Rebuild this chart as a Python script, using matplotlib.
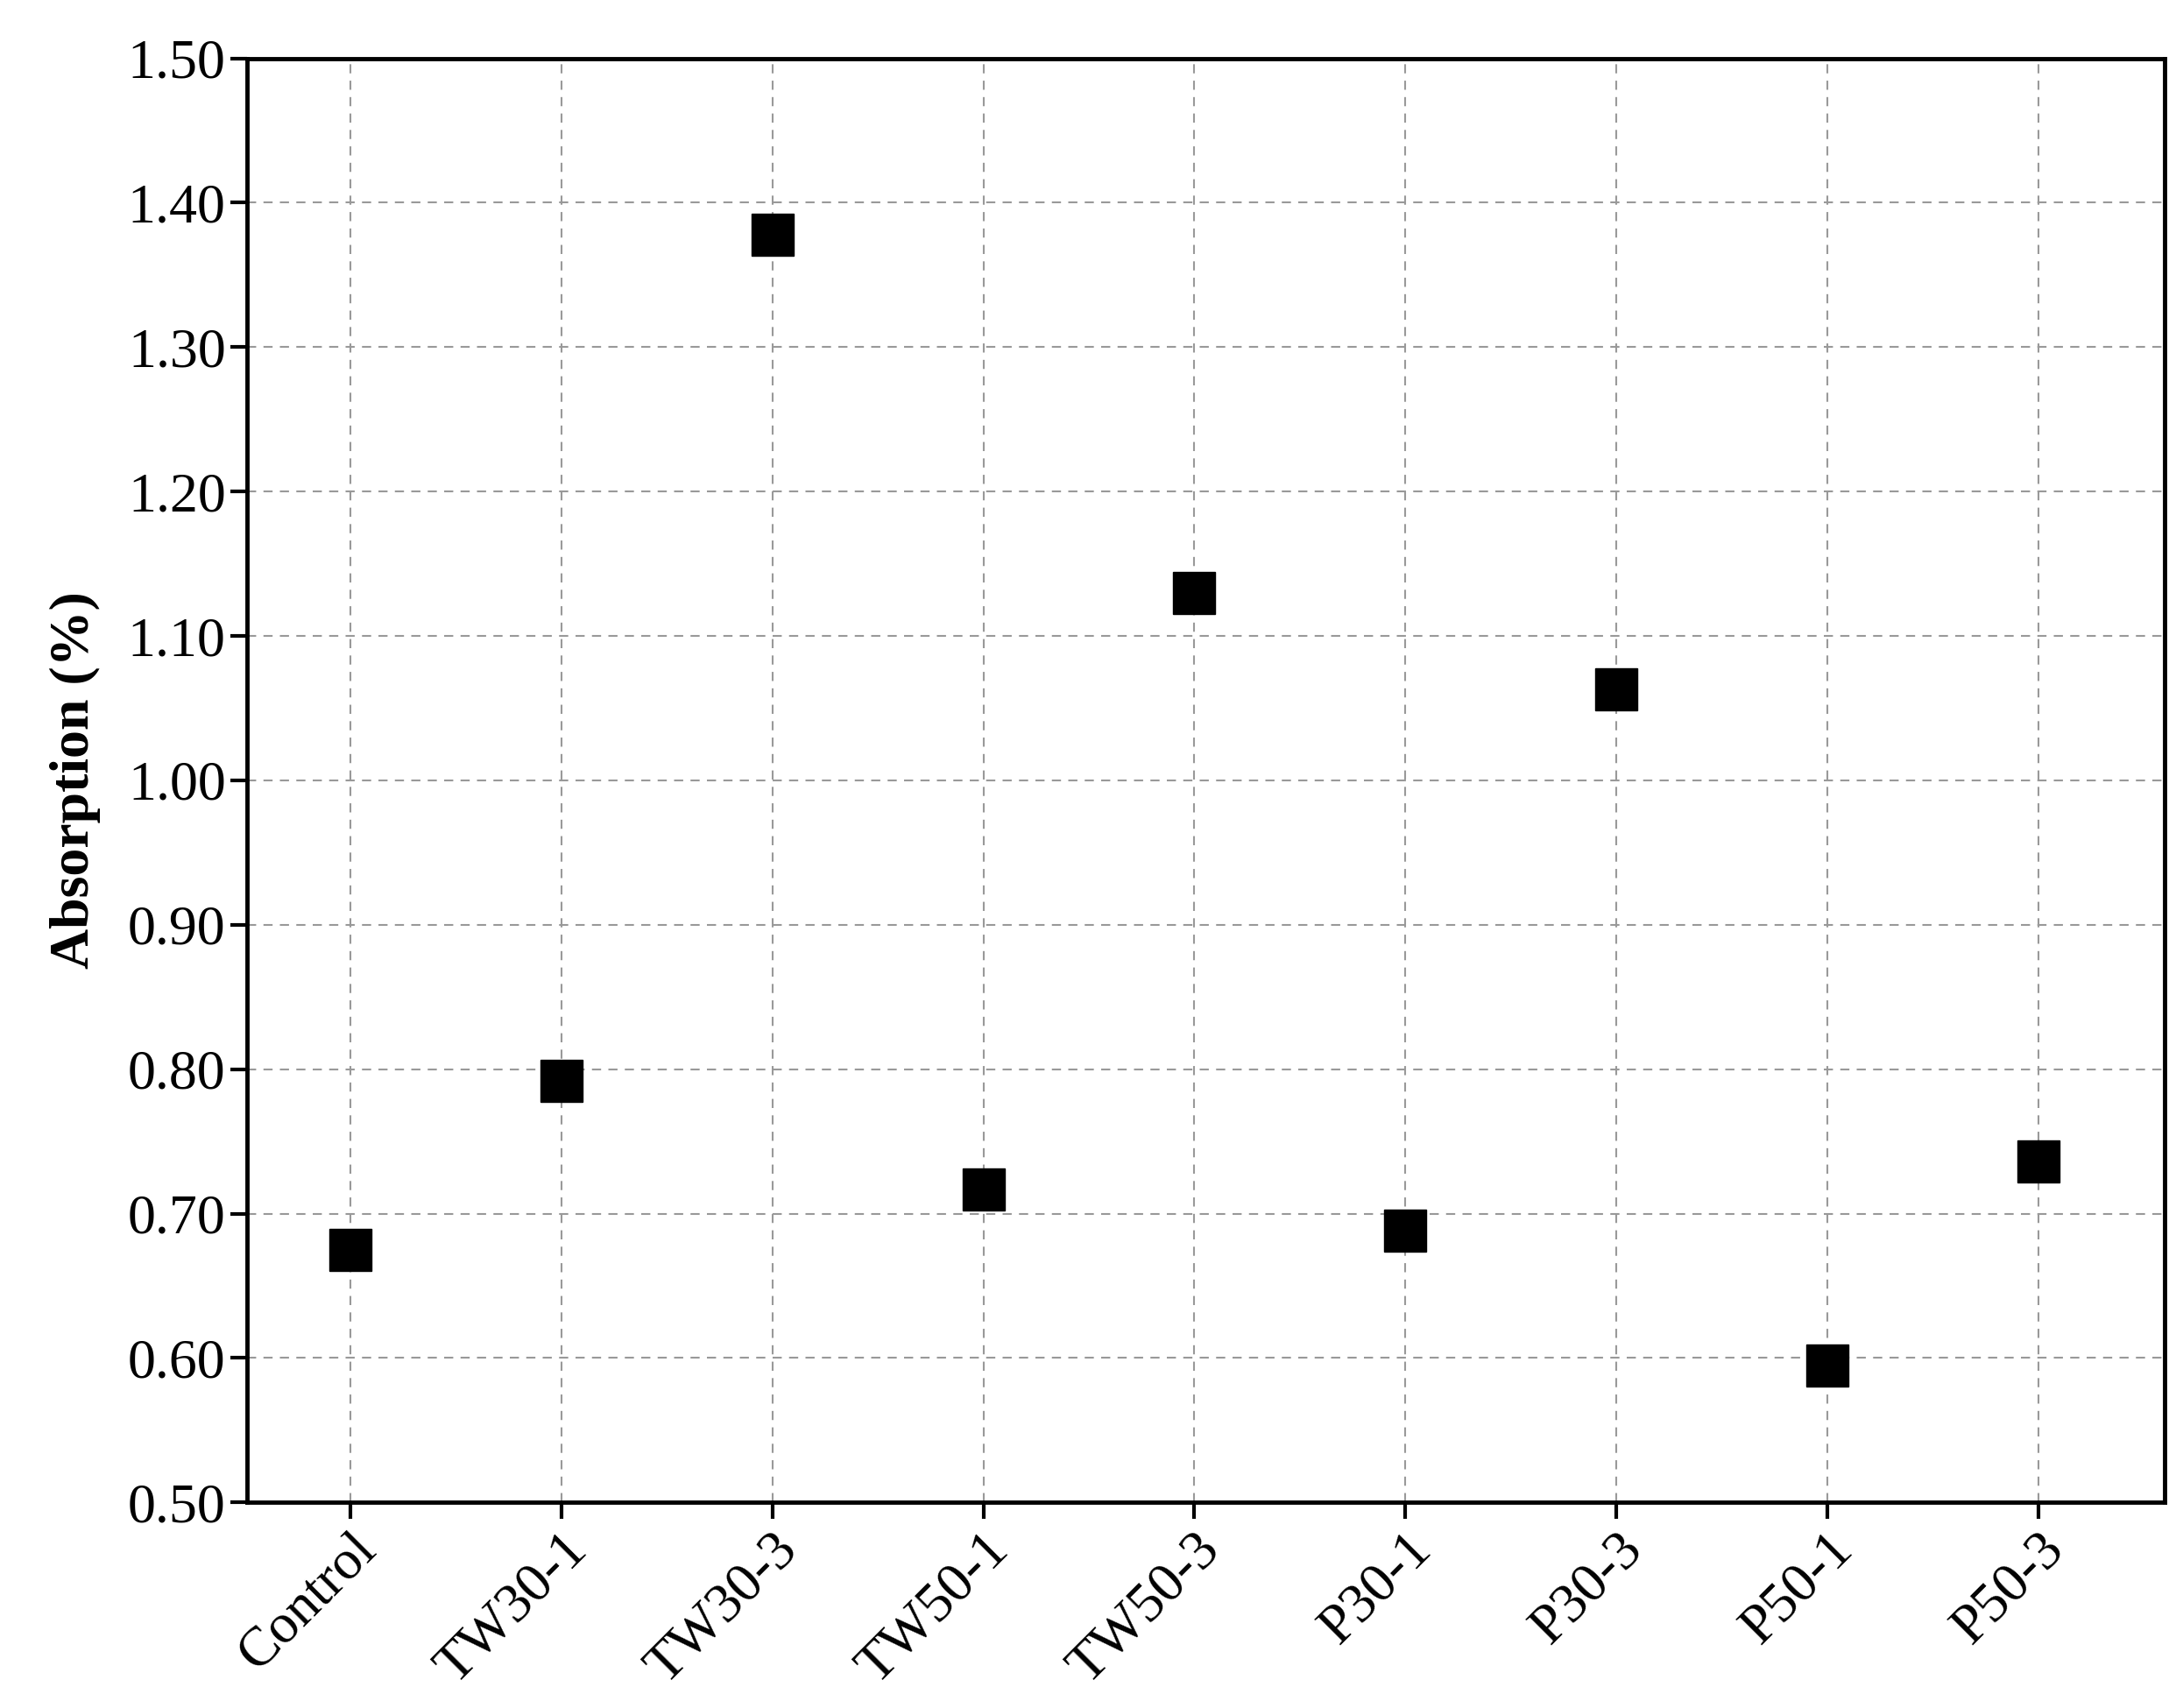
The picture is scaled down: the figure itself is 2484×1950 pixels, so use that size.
import numpy as np
import matplotlib
matplotlib.use("Agg")
import matplotlib.pyplot as plt

plt.rcParams['font.family'] = ['Liberation Serif', 'DejaVu Serif']

# sample groups and water absorption values
samples = ["Control", "TW30-1", "TW30-3", "TW50-1", "TW50-3",
           "P30-1", "P30-3", "P50-1", "P50-3"]
absorption = [0.675, 0.792, 1.378, 0.717, 1.130, 0.688, 1.063, 0.595, 0.736]
yticks = [0.50, 0.60, 0.70, 0.80, 0.90, 1.00, 1.10, 1.20, 1.30, 1.40, 1.50]

fig = plt.figure(figsize=(24.84, 19.5), dpi=100)
ax = fig.add_axes([178 / 1568, 1 - 1082 / 1230, (1560 - 178) / 1568, (1082 - 42) / 1230])

x = np.arange(len(samples))
ax.plot(x, absorption, linestyle="none", marker="s", markersize=34,
        color="black", zorder=3)

ax.set_xlim(-0.49, 8.6)
ax.set_ylim(0.5, 1.5)
ax.set_yticks(yticks)
ax.set_yticklabels([f"{v:.2f}" for v in yticks])
ax.set_xticks(x)
ax.set_xticklabels(samples, rotation=45, ha="right", rotation_mode="anchor")
ax.grid(True, linestyle="--", color="#999999", linewidth=1.5, dashes=(5, 4))
ax.set_axisbelow(True)

ax.tick_params(axis="both", labelsize=46, width=3, length=14, direction="out")
for s in ax.spines.values():
    s.set_linewidth(3.5)

ax.set_ylabel("Absorption (%)", fontsize=46, fontweight="bold", labelpad=22)

fig.savefig("out.png", dpi=100)
